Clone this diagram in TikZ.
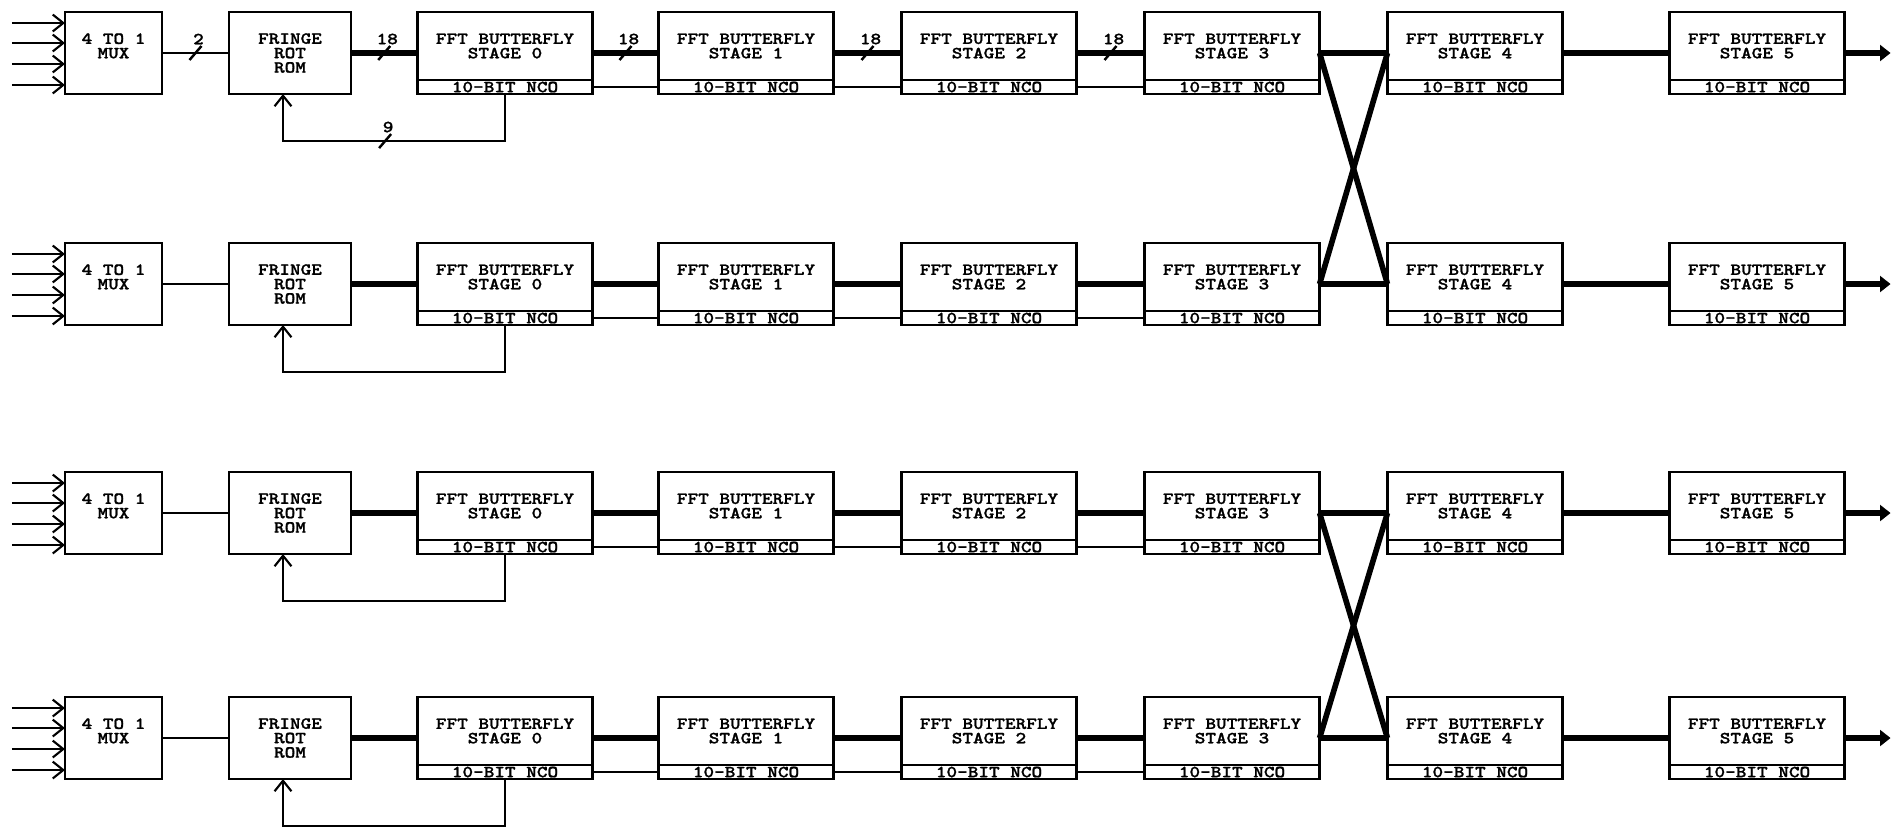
\documentclass[tikz,border=0pt]{standalone}
\usepackage{fontspec}
\usetikzlibrary{positioning,arrows.meta}

\newfontfamily\plotfont{lmmonolt10-bold}[Extension=.otf, FakeStretch=1.2, FakeBold=1.2]

\tikzset{
  box/.style={draw, line width=0.7pt, outer sep=0pt, inner sep=0pt, align=center,
    font=\plotfont\fontsize{4.8}{4.1}\selectfont},
  mux/.style={box, minimum width=0.97cm, minimum height=0.82cm},
  rom/.style={box, minimum width=1.22cm, minimum height=0.82cm},
  stage/.style={box, minimum width=1.75cm, minimum height=0.68cm},
  nco/.style={box, minimum width=1.75cm, minimum height=0.14cm},
  bus/.style={line width=1.6pt},
  wire/.style={line width=0.6pt},
  tick/.style={line width=0.7pt},
  wlabel/.style={font=\plotfont\fontsize{4.8}{4.1}\selectfont, inner sep=0pt},
  >={Straight Barb[length=3pt,width=4.8pt]},
}

\begin{document}
\begin{tikzpicture}[x=0.01cm, y=-0.01cm]
\useasboundingbox (0,0) rectangle (1892,826);
\foreach \r/\t in {1/12, 2/243, 3/472, 4/697} {
  \coordinate (m\r) at (0,\t+41);
  % input mux and fringe rotation rom
  \node[mux] (mux\r) at (113.5,\t+41) {4 TO 1\\MUX\\\mbox{}};
  \node[rom] (fr\r) at (290,\t+41) {FRINGE\\ROT\\ROM};
  \foreach \dy in {-30,-10,11,32}
    \draw[wire,->] ([shift={(-53,\dy)}]mux\r.west) -- ([shift={(0,\dy)}]mux\r.west);
  % butterfly stages, each with its nco
  \foreach \k/\x in {0/505, 1/746, 2/989, 3/1232, 4/1475, 5/1757} {
    \node[stage] (s\k\r) at (\x,\t+34) {FFT BUTTERFLY\\STAGE \k};
    \node[nco, below=0pt of s\k\r] (n\k\r) {10-BIT NCO};
  }
  \draw[wire] (mux\r) -- coordinate[midway] (wm\r) (fr\r);
  \draw[bus] (fr\r) -- coordinate[midway] (wf\r) (m\r -| s0\r.west);
  \foreach \k/\j in {0/1, 1/2, 2/3} {
    \draw[bus] (m\r -| s\k\r.east) -- coordinate[midway] (w\k\r) (m\r -| s\j\r.west);
    \draw[wire] (n\k\r) -- (n\j\r);
  }
  \draw[bus] (m\r -| s3\r.east) -- (m\r -| s4\r.west);
  \draw[bus] (m\r -| s4\r.east) -- (m\r -| s5\r.west);
  \draw[bus,-{Triangle[length=3pt,width=4.5pt]}] (m\r -| s5\r.east) -- ++(46,0);
  % phase back to the rom
  \draw[wire,->] (n0\r.south) -- ++(0,47) -| coordinate[pos=0.27] (w9\r) ([xshift=-0.07cm]fr\r.south);
}
% butterfly crossings
\foreach \a/\b in {1/2, 3/4} {
  \draw[bus] (m\a -| s3\a.east) -- (m\b -| s4\b.west);
  \draw[bus] (m\b -| s3\b.east) -- (m\a -| s4\a.west);
}
% bus widths, top row only
\foreach \c/\w in {wm1/2, wf1/18, w01/18, w11/18, w21/18, w91/9} {
  \draw[tick] ([shift={(-6,7)}]\c) -- ([shift={(6,-7)}]\c);
  \node[wlabel] (l\c) at ([shift={(3,-14)}]\c) {\w};
}
\end{tikzpicture}
\end{document}
